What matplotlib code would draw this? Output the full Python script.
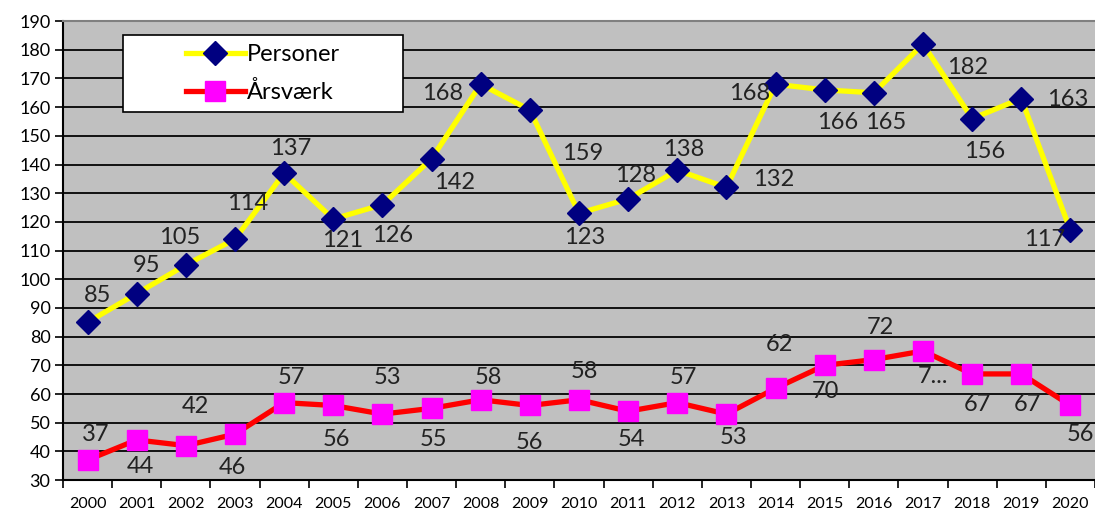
import matplotlib
matplotlib.use("Agg")
import matplotlib.pyplot as plt
from matplotlib.patches import Rectangle

plt.rcParams['font.family'] = ['Lato', 'DejaVu Sans']

### data ###
years = list(range(2000, 2021))
personer = [85, 95, 105, 114, 137, 121, 126, 142, 168, 159, 123, 128, 138, 132, 168, 166, 165, 182, 156, 163, 117]
aarsvaerk = [37, 44, 42, 46, 57, 56, 53, 55, 58, 56, 58, 54, 57, 53, 62, 70, 72, 75, 67, 67, 56]
aarsvaerk_text = [str(v) for v in aarsvaerk]
aarsvaerk_text[17] = "7..."

# label offsets (pixels) as placed in the original
pers_off = [(10, 27), (10, 28), (-6, 27), (13, 36), (7, 25), (9, -21), (10, -31), (23, -24),
            (-38, -9), (53, -43), (6, -24), (7, 23), (6, 21), (47, 8), (-26, -9), (13, -33),
            (12, -30), (45, -23), (13, -33), (46, -1), (-26, -9)]
aars_off = [(8, 25), (4, -27), (10, 39), (-3, -33), (7, 25), (3, -34), (5, 37), (2, -31),
            (8, 22), (0, -37), (5, 28), (3, -28), (6, 25), (7, -23), (4, 44), (1, -26),
            (7, 32), (10, -26), (5, -31), (6, -31), (10, -29)]

fig = plt.figure(figsize=(10.95, 5.14), dpi=100)
ax = fig.add_axes([0.0575, 0.066, 0.9425, 0.893])
ax.set_facecolor('#C0C0C0')

x = list(range(len(years)))
ax.plot(x, personer, color='#FFFF00', lw=3.8, marker='D', ms=12,
        markerfacecolor='#000080', markeredgecolor='#000080', label='Personer', zorder=3)
ax.plot(x, aarsvaerk, color='#FF0000', lw=3.8, marker='s', ms=14,
        markerfacecolor='#FF00FF', markeredgecolor='#FF00FF', label='Årsværk', zorder=3)

for i in x:
    ax.annotate(str(personer[i]), (i, personer[i]), xytext=pers_off[i], textcoords='offset pixels',
                ha='center', va='center', fontsize=17, color='#222222', zorder=4)
    ax.annotate(aarsvaerk_text[i], (i, aarsvaerk[i]), xytext=aars_off[i], textcoords='offset pixels',
                ha='center', va='center', fontsize=17, color='#222222', zorder=4)

ax.set_xlim(-0.5, 20.4)
ax.set_ylim(30, 190)
ax.set_yticks(range(30, 191, 10))
ax.yaxis.grid(True, color='#111111', lw=1.4)
ax.set_axisbelow(True)

ax.set_xticks([i - 0.5 for i in range(len(years) + 1)])
ax.set_xticklabels([])
ax.set_xticks(x, minor=True)
ax.set_xticklabels([str(y) for y in years], minor=True, fontsize=11.5)
ax.tick_params(axis='x', which='major', length=6, width=1.2, direction='out')
ax.tick_params(axis='x', which='minor', length=0, pad=12)
ax.tick_params(axis='y', length=6, width=1.2, labelsize=13, pad=3)

ax.spines['right'].set_visible(False)
ax.spines['top'].set_color('#808080')
ax.spines['top'].set_linewidth(1.5)
ax.spines['left'].set_linewidth(1.5)
ax.spines['bottom'].set_linewidth(1.5)

# legend box
ax.add_patch(Rectangle((0.0581, 0.8017), 0.2714, 0.1678, transform=ax.transAxes,
                       facecolor='white', edgecolor='black', lw=1.2, zorder=5))
leg = ax.legend(loc='center', bbox_to_anchor=(0.1938, 0.8856), fontsize=17, frameon=False,
                handlelength=2.5, labelspacing=0.7, borderpad=0, borderaxespad=0,
                handletextpad=0.1)
leg.set_zorder(6)

fig.savefig('out.png', dpi=100)
